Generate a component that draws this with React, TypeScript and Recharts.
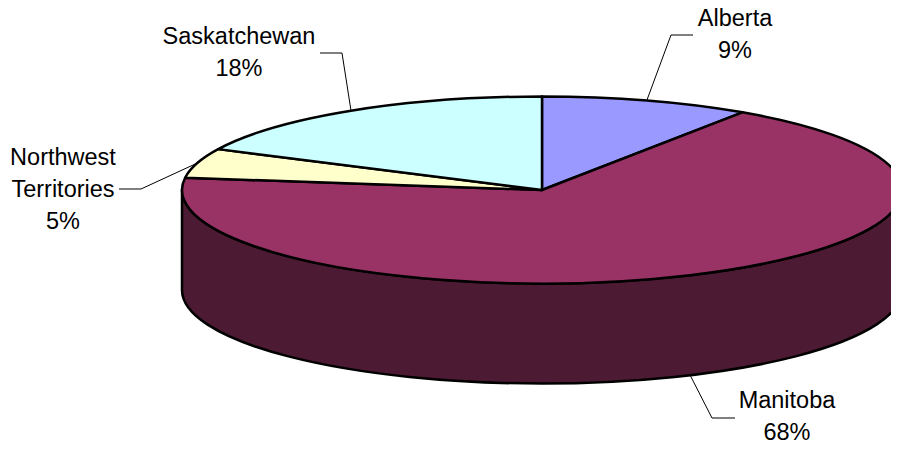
import React from 'react';
import { PieChart, Pie, Cell } from 'recharts';

const provinces = ['Alberta', 'Manitoba', 'Northwest Territories', 'Saskatchewan'];
const shares = [9.4, 67.7, 5.1, 17.8];
const topColors = ['#9999FF', '#993366', '#FFFFCC', '#CCFFFF'];
const wallColors = ['#4D4D80', '#4D1A33', '#808066', '#668080'];

const data = provinces.map((name, i) => ({ name, value: shares[i] }));

const RADIAN = Math.PI / 180;
const SQUASH = 93.5 / 360; // tilt of the pie
const DEPTH = 100;

// where the text goes, relative to the top-left of the chart
const labelLayout: Record<string, { lines: string[]; x: number; y: number; elbow: number[]; end: number[]; lift?: number }> = {
  Alberta: { lines: ['Alberta'], x: 735, y: 26, elbow: [671, 35], end: [693, 35] },
  Manitoba: { lines: ['Manitoba'], x: 787, y: 408, elbow: [712, 418], end: [735, 418], lift: DEPTH },
  'Northwest Territories': { lines: ['Northwest', 'Territories'], x: 63, y: 165, elbow: [141, 189], end: [119, 189] },
  Saskatchewan: { lines: ['Saskatchewan'], x: 239, y: 44, elbow: [342, 53], end: [320, 53] },
};

const point = (cx: number, cy: number, r: number, angle: number) => ({
  x: cx + r * Math.cos(angle * RADIAN),
  y: cy - r * SQUASH * Math.sin(angle * RADIAN),
});

// top face, squashed into an ellipse
const TopSlice = (props: any) => {
  const { cx, cy, outerRadius: r, startAngle, endAngle, fill } = props;
  const a = point(cx, cy, r, startAngle);
  const b = point(cx, cy, r, endAngle);
  const large = Math.abs(startAngle - endAngle) > 180 ? 1 : 0;
  return (
    <path
      d={`M${cx},${cy} L${a.x},${a.y} A${r},${r * SQUASH} 0 ${large} 1 ${b.x},${b.y} Z`}
      fill={fill}
      stroke="#000"
      strokeWidth={2.5}
      strokeLinejoin="round"
    />
  );
};

// side wall, only the part of a slice on the front half shows
const WallSlice = (props: any) => {
  const { cx, cy, outerRadius: r, startAngle, endAngle, fill } = props;
  const hi = Math.min(startAngle, 0);
  const lo = Math.max(endAngle, -180);
  if (hi <= lo) return null;
  const a = point(cx, cy, r, hi);
  const b = point(cx, cy, r, lo);
  const ry = r * SQUASH;
  return (
    <path
      d={`M${a.x},${a.y} A${r},${ry} 0 0 1 ${b.x},${b.y} L${b.x},${b.y + DEPTH} A${r},${ry} 0 0 0 ${a.x},${a.y + DEPTH} Z`}
      fill={fill}
      stroke="#000"
      strokeWidth={2.5}
      strokeLinejoin="round"
    />
  );
};

const renderLabel = (props: any) => {
  const { cx, cy, outerRadius, midAngle, name, percent } = props;
  const layout = labelLayout[name];
  if (!layout) return null;
  const p = point(cx, cy, outerRadius, midAngle);
  const tip = [p.x, p.y + (layout.lift || 0)];
  return (
    <g>
      <polyline
        points={`${tip[0]},${tip[1]} ${layout.elbow[0]},${layout.elbow[1]} ${layout.end[0]},${layout.end[1]}`}
        fill="none"
        stroke="#000"
        strokeWidth={1}
      />
      <text
        x={layout.x}
        y={layout.y}
        textAnchor="middle"
        fontFamily="'Liberation Sans', Arial, sans-serif"
        fontSize={23.5}
        fill="#000"
      >
        {layout.lines.map((line, i) => (
          <tspan key={line} x={layout.x} dy={i === 0 ? 0 : 32}>
            {line}
          </tspan>
        ))}
        <tspan x={layout.x} dy={32}>{`${(percent * 100).toFixed(0)}%`}</tspan>
      </text>
    </g>
  );
};

export default function App() {
  return (
    <div style={{ margin: '-8px 0 0 -8px', width: 899, height: 449 }}>
      <PieChart width={899} height={449} margin={{ top: 0, right: 0, bottom: 0, left: 0 }}>
        <Pie
          data={data}
          dataKey="value"
          nameKey="name"
          cx={542}
          cy={190}
          outerRadius={360}
          startAngle={90}
          endAngle={-270}
          stroke="none"
          shape={WallSlice}
          isAnimationActive={false}
        >
          {data.map((entry, i) => (
            <Cell key={entry.name} fill={wallColors[i]} />
          ))}
        </Pie>
        <Pie
          data={data}
          dataKey="value"
          nameKey="name"
          cx={542}
          cy={190}
          outerRadius={360}
          startAngle={90}
          endAngle={-270}
          stroke="none"
          shape={TopSlice}
          label={renderLabel}
          labelLine={false}
          isAnimationActive={false}
        >
          {data.map((entry, i) => (
            <Cell key={entry.name} fill={topColors[i]} />
          ))}
        </Pie>
      </PieChart>
    </div>
  );
}
